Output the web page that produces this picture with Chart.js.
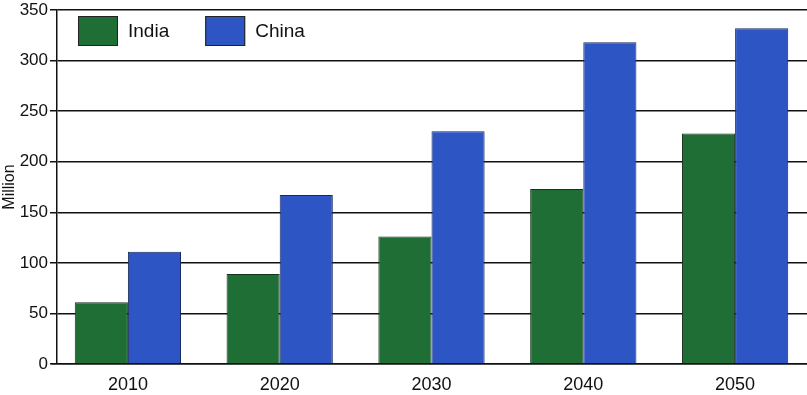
<!DOCTYPE html>
<html>
<head>
<meta charset="utf-8">
<script src="https://cdn.jsdelivr.net/npm/chart.js@4/dist/chart.umd.min.js"></script>
<style>
  html, body { margin: 0; padding: 0; background: #fff; overflow: hidden; }
  /* plot runs a few px past the right edge, as in the original */
  #wrap { width: 811px; height: 395px; }
</style>
</head>
<body>
<div id="wrap"><canvas id="chart"></canvas></div>
<script>
// data
const years = ['2010', '2020', '2030', '2040', '2050'];
const india = [61, 89, 126, 173, 228];
const china = [111, 167, 230, 318, 332];
const yTicks = [0, 50, 100, 150, 200, 250, 300, 350];

const FONT = 'Liberation Sans, Arial, Helvetica, sans-serif';

// legend drawn inside the plot, top-left
const innerLegend = {
  id: 'innerLegend',
  afterDraw(chart) {
    const ctx = chart.ctx;
    const area = chart.chartArea;
    let x = area.left + 21;
    const y = area.top + 6;
    ctx.save();
    ctx.font = '19px ' + FONT;
    ctx.textBaseline = 'middle';
    chart.data.datasets.forEach(ds => {
      ctx.fillStyle = ds.backgroundColor;
      ctx.fillRect(x, y, 40, 30);
      ctx.strokeStyle = '#222';
      ctx.lineWidth = 1;
      ctx.strokeRect(x + 0.5, y + 0.5, 39, 29);
      ctx.fillStyle = '#111';
      ctx.fillText(ds.label, x + 50, y + 16);
      x += 50 + ctx.measureText(ds.label).width + 36;
    });
    ctx.restore();
  }
};

// the category band starts a bit left of the y axis line in the original
const shiftBands = {
  id: 'shiftBands',
  afterLayout(chart) {
    const x = chart.scales.x;
    x.left = chart.chartArea.left - 5;
    x.configure();
  }
};

new Chart(document.getElementById('chart'), {
  type: 'bar',
  data: {
    labels: years,
    datasets: [
      { label: 'India', data: india, backgroundColor: '#1f6e35', borderColor: '#17331f', borderWidth: 1 },
      { label: 'China', data: china, backgroundColor: '#2e55c4', borderColor: '#1a2a5e', borderWidth: 1 }
    ]
  },
  options: {
    responsive: true,
    maintainAspectRatio: false,
    animation: false,
    layout: { padding: { top: 10, right: 0, bottom: 0, left: 0 } },
    plugins: {
      legend: { display: false },
      tooltip: { enabled: false }
    },
    datasets: {
      bar: { categoryPercentage: 0.70, barPercentage: 1.0 }
    },
    scales: {
      x: {
        afterFit: axis => { axis.height = 31; axis.paddingLeft = 0; axis.paddingRight = 0; },
        grid: { display: false, drawTicks: false },
        border: { color: '#111', width: 1.5 },
        ticks: { color: '#111', font: { family: FONT, size: 18 }, padding: 10 }
      },
      y: {
        min: 0,
        max: 350,
        afterFit: axis => { axis.width = 57; axis.paddingTop = 0; axis.paddingBottom = 0; },
        afterBuildTicks: axis => { axis.ticks = yTicks.map(v => ({ value: v })); },
        grid: { color: '#111', lineWidth: 1.5, tickLength: 7, tickColor: '#111' },
        border: { color: '#111', width: 1.5 },
        ticks: { color: '#111', font: { family: FONT, size: 17 }, padding: 2 },
        title: { display: true, text: 'Million', color: '#111', font: { family: FONT, size: 16 }, padding: { top: 0, bottom: 0 } }
      }
    }
  },
  plugins: [innerLegend, shiftBands]
});
</script>
</body>
</html>
